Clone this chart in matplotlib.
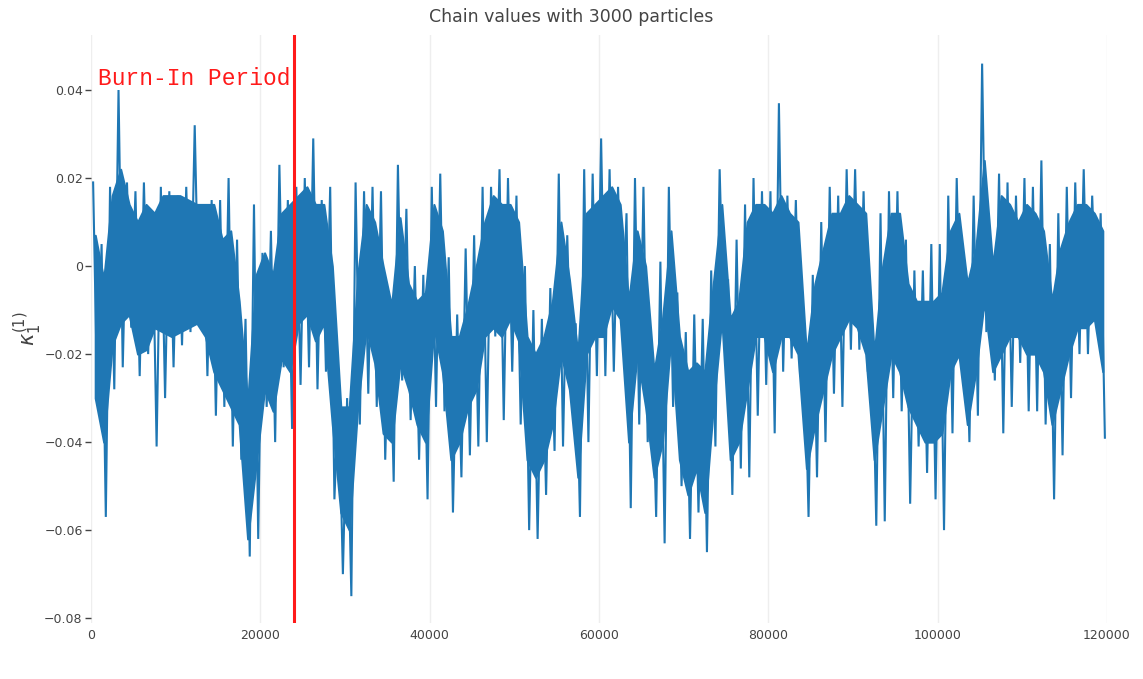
import numpy as np
import matplotlib
matplotlib.use("Agg")
import matplotlib.pyplot as plt
from matplotlib.ticker import FuncFormatter

# chain trace summarised per block of 1000 iterations (units of 1e-3)
block_size = 1000
# highest / lowest value reached inside each block
block_hi = [19, 5, 18, 40, 19, 17, 19, 12, 18, 17, 16, 18, 32, 14, 15, 15, 20, 6, -12, 14,
            3, 8, 23, 15, 18, 20, 29, 15, 18, -28, -30, 19, 17, 18, 17, -7, 23, 13, 0, -2,
            18, 21, 2, -11, 4, 7, 18, 18, 22, 20, 16, 0, -10, -12, -5, 21, 7, -13, 22, 21,
            29, 22, 18, 12, 20, 18, -21, 1, 18, -6, -15, -11, -12, -1, 22, -3, 6, 14, 20, 17,
            17, 37, 16, 15, -17, -2, 10, 18, 16, 22, 22, 17, -13, 12, 17, 17, 6, -1, -1, 5,
            5, 16, 20, -4, 16, 46, 6, 21, 19, 16, 20, 18, 24, 5, 12, 18, 19, 22, 16, 12]
block_lo = [-31, -57, -28, -23, -14, -25, -20, -41, -30, -23, -18, -15, -13, -25, -34, -32, -41, -44, -66, -62,
            -32, -40, -23, -37, -27, -23, -28, -24, -53, -70, -75, -36, -29, -32, -44, -49, -26, -35, -44, -53,
            -32, -33, -56, -48, -43, -41, -40, -16, -35, -24, -36, -60, -62, -52, -42, -41, -28, -57, -40, -25,
            -25, -24, -15, -55, -36, -40, -57, -63, -32, -50, -62, -56, -65, -41, -15, -52, -46, -48, -34, -27,
            -38, -24, -21, -25, -57, -48, -40, -29, -32, -19, -19, -24, -59, -58, -30, -33, -54, -41, -47, -53,
            -60, -38, -20, -40, -34, -15, -26, -38, -32, -22, -33, -33, -36, -53, -43, -30, -20, -20, -12, -39]
# range where most of the samples of each block sit
core_hi = [7, -3, 16, 22, 14, 10, 14, 12, 16, 16, 16, 15, 14, 14, 14, 6, 8, -8, -31, -2,
           3, -2, 12, 14, 16, 18, 14, 14, 0, -32, -32, -2, 14, 10, 0, -9, 11, -4, -8, -6,
           14, 8, -16, -16, -9, 0, 10, 16, 14, 14, 10, -16, -20, -16, -8, 10, -3, -20, 12, 14,
           16, 18, 14, -8, 8, 0, -24, -12, 8, -16, -24, -22, -24, -4, 14, -12, -8, 10, 14, 14,
           12, 16, 12, 10, -20, -4, 4, 12, 12, 16, 14, 12, -20, 0, 12, 12, -4, -8, -8, -8,
           -6, 8, 12, -4, 4, 24, 0, 16, 14, 10, 14, 12, 8, -8, 4, 10, 14, 14, 12, 8]
core_lo = [-30, -40, -18, -13, -11, -20, -19, -14, -15, -16, -15, -14, -13, -16, -24, -28, -32, -36, -62, -45,
           -28, -33, -21, -24, -13, -11, -17, -13, -36, -56, -60, -32, -14, -22, -38, -40, -22, -28, -36, -40,
           -14, -24, -44, -40, -32, -28, -16, -14, -16, -12, -17, -44, -48, -44, -36, -20, -28, -48, -20, -16,
           -16, -9, -12, -40, -20, -32, -48, -40, -16, -44, -52, -46, -56, -32, -12, -44, -40, -28, -16, -16,
           -24, -16, -16, -20, -46, -36, -28, -20, -16, -12, -14, -20, -44, -32, -20, -24, -32, -36, -40, -40,
           -38, -24, -20, -36, -24, -8, -24, -20, -16, -16, -20, -20, -24, -36, -28, -20, -14, -14, -12, -24]

burn_in = 24000
title = "Chain values with 3000 particles"
y_ticks = [-0.08, -0.06, -0.04, -0.02, 0, 0.02, 0.04]
x_ticks = [0, 20000, 40000, 60000, 80000, 100000, 120000]

blue = "#1f77b4"
red = "#ff1a1a"
grey = "#444444"
plt.rcParams["font.family"] = ["DejaVu Sans"]

n = len(block_hi)
starts = np.arange(n) * block_size
# extremes drawn as a zig-zag: peak early in the block, trough late
iters = np.empty(2 * n)
iters[0::2] = starts + block_size * 0.25
iters[1::2] = starts + block_size * 0.75
trace = np.empty(2 * n)
trace[0::2] = np.array(block_hi) * 1e-3
trace[1::2] = np.array(block_lo) * 1e-3

W, H = 1143, 679
fig = plt.figure(figsize=(W / 100, H / 100), dpi=100)
ax = fig.add_axes([91 / W, 1 - 623 / H, (1107 - 91) / W, (623 - 35) / H])

centers = starts + block_size / 2
ax.fill_between(centers, np.array(core_lo) * 1e-3, np.array(core_hi) * 1e-3,
                color=blue, lw=1.5, edgecolor=blue)
ax.plot(iters, trace, color=blue, lw=1.5, solid_joinstyle="miter")
ax.axvline(burn_in, color=red, lw=2.2)
ax.text(burn_in - 450, 0.0411, "Burn-In Period", color=red,
        family="Liberation Mono", fontsize=16.5, ha="right", va="baseline")

ax.set_xlim(0, 120000)
ax.set_ylim(-0.0811, 0.0525)
ax.set_xticks(x_ticks)
ax.set_yticks(y_ticks)
ax.yaxis.set_major_formatter(FuncFormatter(
    lambda v, p: "0" if abs(v) < 1e-12 else f"{v:.2f}".replace("-", "\u2212")))
ax.xaxis.set_major_formatter(FuncFormatter(lambda v, p: f"{int(v)}"))

for s in ax.spines.values():
    s.set_visible(False)
ax.grid(axis="x", color="#eeeeee", lw=1)
ax.set_axisbelow(True)
ax.tick_params(axis="x", length=0, pad=4, labelsize=9, labelcolor=grey)
ax.tick_params(axis="y", length=4, width=1, color=grey, pad=2,
               labelsize=9, labelcolor=grey)

ax.set_ylabel(r"$\kappa_1^{(1)}$", fontsize=15, color=grey)
ax.yaxis.set_label_coords((44 - 91) / (1107 - 91), 0.5)

fig.text(571 / W, 1 - 17 / H, title, ha="center", va="center",
         fontsize=12.5, color=grey)

fig.savefig("out.png", dpi=100, facecolor="white")
